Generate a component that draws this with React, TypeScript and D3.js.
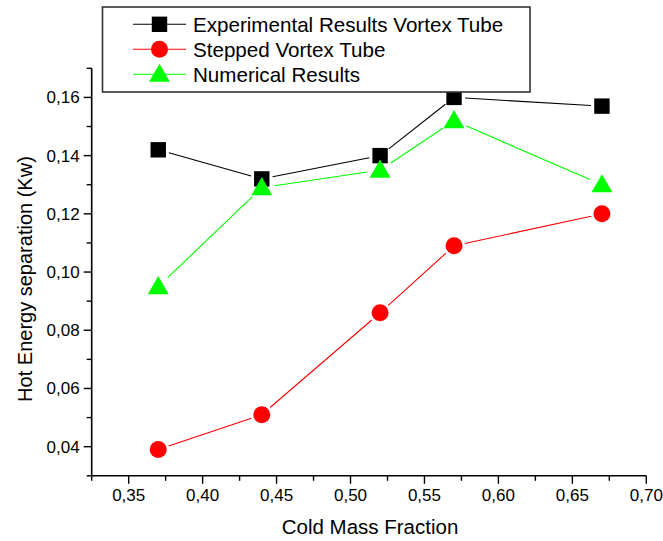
import React from "react";
import * as d3 from "d3";

const coldMassFraction = [0.37, 0.44, 0.52, 0.57, 0.67];
const experimental = [0.142, 0.132, 0.14, 0.16, 0.157];
const stepped = [0.039, 0.051, 0.086, 0.109, 0.12];
const numerical = [0.095, 0.129, 0.135, 0.152, 0.13];

const xTicks = [0.35, 0.4, 0.45, 0.5, 0.55, 0.6, 0.65, 0.7];
const yTicks = [0.04, 0.06, 0.08, 0.1, 0.12, 0.14, 0.16];
const xMinor = [0.325, 0.375, 0.425, 0.475, 0.525, 0.575, 0.625, 0.675];
const yMinor = [0.03, 0.05, 0.07, 0.09, 0.11, 0.13, 0.15, 0.17];

const legendLabels = ["Experimental Results Vortex Tube", "Stepped Vortex Tube", "Numerical Results"];
const xTitle = "Cold Mass Fraction";
const yTitle = "Hot Energy separation (Kw)";

const W = 663;
const H = 541;
const FONT = "'Liberation Sans', Arial, sans-serif";

const x = d3.scaleLinear().domain([0.325, 0.7]).range([91.7, 646.3]);
const y = d3.scaleLinear().domain([0.03, 0.17]).range([475.8, 68.3]);
const fmt = (v: number) => d3.format(".2f")(v).replace(".", ",");

type Kind = "square" | "circle" | "triangle";

function Marker({ cx, cy, kind, color }: { cx: number; cy: number; kind: Kind; color: string }) {
  if (kind === "square") return <rect x={cx - 7.7} y={cy - 7.7} width={15.4} height={15.4} fill={color} />;
  if (kind === "circle") return <circle cx={cx} cy={cy} r={8.5} fill={color} />;
  const sym = d3.symbol().type(d3.symbolTriangle).size(190)();
  return <path d={sym || ""} transform={`translate(${cx},${cy + 1.5})`} fill={color} />;
}

function GappedLine({ pts, gap, color }: { pts: [number, number][]; gap: number; color: string }) {
  const segs: string[] = [];
  for (let i = 0; i < pts.length - 1; i++) {
    const [x1, y1] = pts[i];
    const [x2, y2] = pts[i + 1];
    const dx = x2 - x1, dy = y2 - y1;
    const len = Math.hypot(dx, dy);
    if (len <= gap * 2) continue;
    const ux = dx / len, uy = dy / len;
    segs.push(
      d3.line()([
        [x1 + ux * gap, y1 + uy * gap],
        [x2 - ux * gap, y2 - uy * gap],
      ]) || ""
    );
  }
  return <path d={segs.join("")} fill="none" stroke={color} strokeWidth={1.1} />;
}

const series: { values: number[]; color: string; kind: Kind; gap: number }[] = [
  { values: experimental, color: "#000000", kind: "square", gap: 11 },
  { values: stepped, color: "#ff0000", kind: "circle", gap: 11 },
  { values: numerical, color: "#00ff00", kind: "triangle", gap: 13 },
];

export default function App() {
  const [x0, x1] = x.range();
  const [y0, y1] = y.range();
  return (
    <svg
      width={W}
      height={H}
      style={{ position: "absolute", left: 0, top: 0, background: "#fff" }}
      fontFamily={FONT}
    >
      <rect width={W} height={H} fill="#fff" />
      {series.map((s, si) => {
        const pts = coldMassFraction.map((c, i) => [x(c), y(s.values[i])] as [number, number]);
        return (
          <g key={si}>
            <GappedLine pts={pts} gap={s.gap} color={s.color} />
            {pts.map((p, i) => (
              <Marker key={i} cx={p[0]} cy={p[1]} kind={s.kind} color={s.color} />
            ))}
          </g>
        );
      })}
      <line x1={x0} x2={x1} y1={y0} y2={y0} stroke="#000" strokeWidth={1.6} />
      <line x1={x0} x2={x0} y1={y0} y2={y1} stroke="#000" strokeWidth={1.6} />
      {xTicks.map((t) => (
        <g key={"xt" + t}>
          <line x1={x(t)} x2={x(t)} y1={y0} y2={y0 + 8} stroke="#000" strokeWidth={1.4} />
          <text x={x(t)} y={y0 + 25} fontSize={17} textAnchor="middle" fill="#000">
            {fmt(t)}
          </text>
        </g>
      ))}
      {xMinor.map((t) => (
        <line key={"xm" + t} x1={x(t)} x2={x(t)} y1={y0} y2={y0 + 5} stroke="#000" strokeWidth={1.4} />
      ))}
      {yTicks.map((t) => (
        <g key={"yt" + t}>
          <line x1={x0} x2={x0 - 8} y1={y(t)} y2={y(t)} stroke="#000" strokeWidth={1.4} />
          <text x={x0 - 12} y={y(t) + 6} fontSize={17} textAnchor="end" fill="#000">
            {fmt(t)}
          </text>
        </g>
      ))}
      {yMinor.map((t) => (
        <line key={"ym" + t} x1={x0} x2={x0 - 5} y1={y(t)} y2={y(t)} stroke="#000" strokeWidth={1.4} />
      ))}
      <text x={(x0 + x1) / 2 + 1} y={534} fontSize={20.5} textAnchor="middle" fill="#000">
        {xTitle}
      </text>
      <text
        transform={`translate(31.5, ${(y0 + y1) / 2 + 7}) rotate(-90)`}
        fontSize={20}
        textAnchor="middle"
        fill="#000"
      >
        {yTitle}
      </text>
      <rect x={102.5} y={7} width={427.5} height={85} fill="#fff" stroke="#333" strokeWidth={1.6} />
      {series.map((s, i) => {
        const cy = 24.3 + i * 25;
        return (
          <g key={"lg" + i}>
            <line x1={133} x2={186} y1={cy} y2={cy} stroke={s.color} strokeWidth={1.1} />
            <Marker cx={159.5} cy={cy} kind={s.kind} color={s.color} />
            <text x={193} y={cy + 7.5} fontSize={20.6} fill="#000">
              {legendLabels[i]}
            </text>
          </g>
        );
      })}
    </svg>
  );
}
